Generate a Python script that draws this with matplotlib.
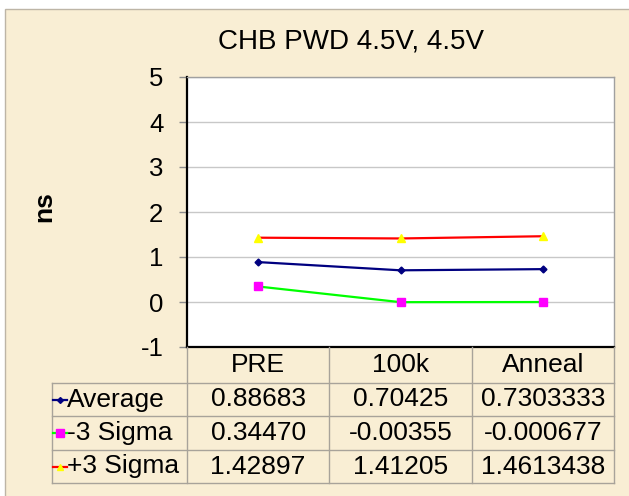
import matplotlib
matplotlib.use("Agg")
import matplotlib.pyplot as plt
from matplotlib.patches import Rectangle
from matplotlib.lines import Line2D

# ---- data ----
categories = ["PRE", "100k", "Anneal"]
series_names = ["Average", "-3 Sigma", "+3 Sigma"]
average_text = ["0.88683", "0.70425", "0.7303333"]
minus3_text = ["0.34470", "-0.00355", "-0.000677"]
plus3_text = ["1.42897", "1.41205", "1.4613438"]
y_ticks = [-1, 0, 1, 2, 3, 4, 5]
title = "CHB PWD 4.5V, 4.5V"
y_label = "ns"

series_text = [average_text, minus3_text, plus3_text]
series_vals = [[float(s) for s in row] for row in series_text]

# ---- styles ----
line_colors = ["#000080", "#00FF00", "#FF0000"]
marker_shapes = ["D", "s", "^"]
marker_face = ["#000080", "#FF00FF", "#FFFF00"]
marker_sizes = [3.5, 6, 5.5]
PARCH = "#F9EED4"
GRIDC = "#A8A39A"
FONT = "Liberation Sans"
FS = 19
plt.rcParams["font.family"] = [FONT, "DejaVu Sans"]

W, H = 629, 496
fig = plt.figure(figsize=(W / 100, H / 100), dpi=100)
fig.patch.set_facecolor("white")


def fx(px):
    return px / W


def fy(py):
    return 1 - py / H


# chart area background
bg = Rectangle((fx(5), -0.1), 1.2, fy(9) + 0.1, transform=fig.transFigure,
               facecolor=PARCH, edgecolor="#BDB5A6", lw=1, zorder=-10)
fig.add_artist(bg)

# plot area
L, R, T, B = 187, 614, 77, 347
ax = fig.add_axes([fx(L), fy(B), fx(R) - fx(L), fy(T) - fy(B)])
ax.set_zorder(1)
ax.set_facecolor("white")
ax.set_xlim(0, len(categories))
ax.set_ylim(y_ticks[0], y_ticks[-1])
ax.set_yticks(y_ticks)
ax.set_yticklabels([str(t) for t in y_ticks])
ax.set_xticks([])
ax.yaxis.grid(True, color="#C8C8C8", lw=1)
ax.set_axisbelow(True)
ax.tick_params(axis="y", length=6, width=1, color="#8C8C8C", pad=11, labelsize=FS - 0.5)
for s in ["left", "bottom"]:
    ax.spines[s].set_color("black")
    ax.spines[s].set_linewidth(1.6)
for s in ["top", "right"]:
    ax.spines[s].set_color("#A0A0A0")
    ax.spines[s].set_linewidth(1)

xs = [i + 0.5 for i in range(len(categories))]
for vals, lc, m, mf, ms in zip(series_vals, line_colors, marker_shapes, marker_face, marker_sizes):
    ax.plot(xs, vals, color=lc, lw=1.6, marker=m, markerfacecolor=mf,
            markeredgecolor=mf, markersize=ms, zorder=3, clip_on=False)

# title and axis label
fig.text(fx(351.5), fy(42), title, ha="center", va="center", fontsize=20)
fig.text(fx(44), fy(207), y_label, ha="center", va="center", fontsize=FS,
         fontweight="bold", rotation=90)

# ---- data table ----
col_edges_px = [L + (R - L) * i / len(categories) for i in range(len(categories) + 1)]
lab_left = 52
row_edges = [B, 383, 416, 450, 483]


def hline(y, x0, x1):
    fig.add_artist(Line2D([fx(x0), fx(x1)], [fy(y), fy(y)], transform=fig.transFigure,
                          color=GRIDC, lw=1, zorder=2))


def vline(x, y0, y1):
    fig.add_artist(Line2D([fx(x), fx(x)], [fy(y0), fy(y1)], transform=fig.transFigure,
                          color=GRIDC, lw=1, zorder=2))


for y in row_edges[1:]:
    hline(y, lab_left, R)
for x in col_edges_px:
    vline(x, B, row_edges[-1])
vline(lab_left, row_edges[1], row_edges[-1])

# header
hy = (row_edges[0] + row_edges[1]) / 2
for i, c in enumerate(categories):
    cx = (col_edges_px[i] + col_edges_px[i + 1]) / 2
    fig.text(fx(cx), fy(hy), c, ha="center", va="center", fontsize=FS)

# rows
for r, (name, texts) in enumerate(zip(series_names, series_text)):
    ry = (row_edges[r + 1] + row_edges[r + 2]) / 2
    fig.add_artist(Line2D([fx(lab_left + 1), fx(67)], [fy(ry), fy(ry)], transform=fig.transFigure,
                          color=line_colors[r], lw=1.6, zorder=3))
    fig.add_artist(Line2D([fx(59.5)], [fy(ry)], transform=fig.transFigure, marker=marker_shapes[r],
                          markerfacecolor=marker_face[r], markeredgecolor=marker_face[r],
                          markersize=marker_sizes[r] - 0.5, zorder=4))
    fig.text(fx(67), fy(ry), name, ha="left", va="center", fontsize=FS)
    for i, t in enumerate(texts):
        cx = (col_edges_px[i] + col_edges_px[i + 1]) / 2
        fig.text(fx(cx), fy(ry), t, ha="center", va="center", fontsize=FS)

fig.savefig("out.png", dpi=100, facecolor=fig.get_facecolor())
